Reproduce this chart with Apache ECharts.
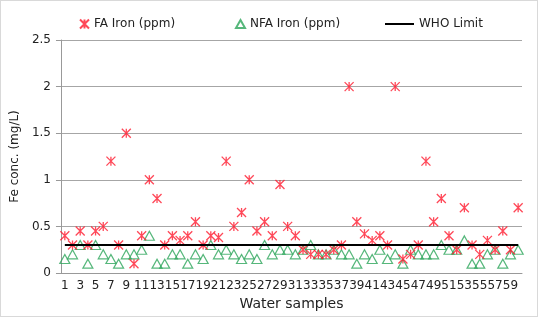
<!DOCTYPE html>
<html>
<head>
<meta charset="utf-8">
<script src="https://cdn.jsdelivr.net/npm/echarts@6/dist/echarts.min.js"></script>
<style>
  html, body { margin: 0; padding: 0; background: #fff; }
  #chart { width: 538px; height: 317px; box-sizing: border-box; border: 1px solid #d9d9d9; }
</style>
</head>
<body>
<div id="chart"></div>
<script>
var samples = [];
for (var i = 1; i <= 60; i++) samples.push(String(i));

var faIron = [0.4, 0.3, 0.45, 0.3, 0.45, 0.5, 1.2, 0.3, 1.5, 0.1,
  0.4, 1.0, 0.8, 0.3, 0.4, 0.35, 0.4, 0.55, 0.3, 0.4,
  0.38, 1.2, 0.5, 0.65, 1.0, 0.45, 0.55, 0.4, 0.95, 0.5,
  0.4, 0.25, 0.2, 0.2, 0.2, 0.25, 0.3, 2.0, 0.55, 0.42,
  0.35, 0.4, 0.3, 2.0, 0.15, 0.2, 0.3, 1.2, 0.55, 0.8,
  0.4, 0.25, 0.7, 0.3, 0.2, 0.35, 0.25, 0.45, 0.25, 0.7];

var nfaIron = [0.15, 0.2, 0.3, 0.1, 0.3, 0.2, 0.15, 0.1, 0.2, 0.2,
  0.25, 0.4, 0.1, 0.1, 0.2, 0.2, 0.1, 0.2, 0.15, 0.3,
  0.2, 0.25, 0.2, 0.15, 0.2, 0.15, 0.3, 0.2, 0.25, 0.25,
  0.2, 0.25, 0.3, 0.2, 0.2, 0.25, 0.2, 0.2, 0.1, 0.2,
  0.15, 0.25, 0.15, 0.2, 0.1, 0.25, 0.2, 0.2, 0.2, 0.3,
  0.25, 0.25, 0.35, 0.1, 0.1, 0.2, 0.25, 0.1, 0.2, 0.25];

var whoLimit = 0.3;

// asterisk marker like the Excel "star"
var starPath = 'path://M5,0L5,10M0,0L10,10M0,10L10,0';
var legendText = { fontSize: 12, color: '#222' };

var chart = echarts.init(document.getElementById('chart'));
chart.setOption({
  animation: false,
  textStyle: { fontFamily: 'DejaVu Sans' },
  legend: [
    { top: 12, left: 73, itemWidth: 9, itemHeight: 9, textStyle: legendText,
      data: ['FA Iron (ppm)'] },
    { top: 12, left: 229, itemWidth: 9, itemHeight: 8, textStyle: legendText,
      data: ['NFA Iron (ppm)'] },
    { top: 12, left: 379, itemWidth: 29, itemHeight: 2, textStyle: legendText,
      data: [{ name: 'WHO Limit', icon: 'rect', itemStyle: { color: '#000' } }] }
  ],
  grid: { left: 48, right: 15, top: 39, bottom: 43 },
  xAxis: {
    type: 'category',
    data: samples,
    name: 'Water samples',
    nameLocation: 'middle',
    nameGap: 17,
    nameTextStyle: { fontSize: 14, color: '#222' },
    axisLine: { lineStyle: { color: '#999' } },
    axisTick: { interval: 0, length: 5, lineStyle: { color: '#999' } },
    axisLabel: { interval: 1, fontSize: 12, color: '#222', margin: 7 }
  },
  yAxis: {
    type: 'value',
    min: 0, max: 2.5, interval: 0.5,
    name: 'Fe conc. (mg/L)',
    nameLocation: 'middle',
    nameGap: 35,
    nameTextStyle: { fontSize: 12, color: '#222' },
    axisLine: { show: true, lineStyle: { color: '#999' } },
    axisTick: { show: true, length: 5, lineStyle: { color: '#999' } },
    axisLabel: { fontSize: 12, color: '#222', margin: 10 },
    splitLine: { lineStyle: { color: '#a6a6a6' } }
  },
  series: [{
    name: 'FA Iron (ppm)',
    type: 'scatter',
    data: faIron,
    symbol: starPath,
    symbolSize: 9,
    itemStyle: { color: 'transparent', borderColor: '#ff1a2e', borderWidth: 1.3 },
    z: 3
  }, {
    name: 'NFA Iron (ppm)',
    type: 'scatter',
    data: nfaIron,
    symbol: 'triangle',
    symbolSize: [10, 9],
    itemStyle: { color: 'transparent', borderColor: '#2ca55a', borderWidth: 1.2 },
    z: 2
  }, {
    name: 'WHO Limit',
    type: 'line',
    data: samples.map(function(){ return whoLimit; }),
    symbol: 'none',
    lineStyle: { color: '#000', width: 2 },
    z: 4
  }]
});
</script>
</body>
</html>
